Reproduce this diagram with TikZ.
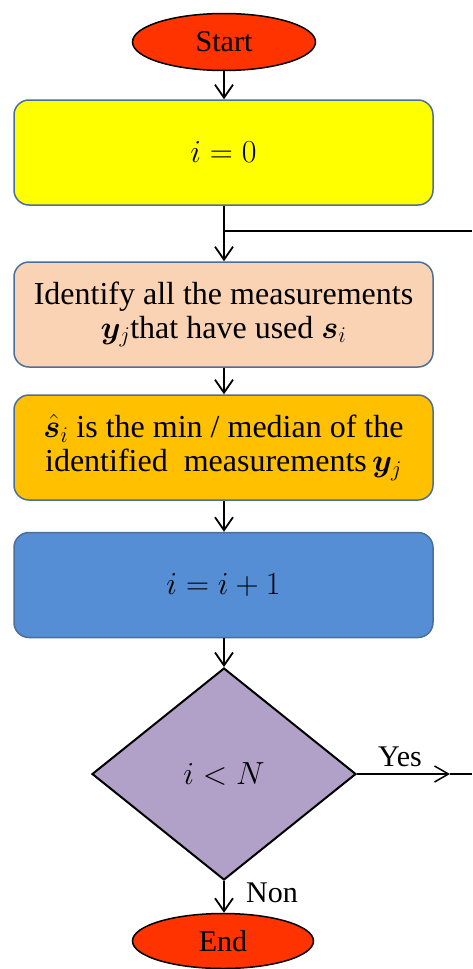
\documentclass[tikz,border=0pt]{standalone}
\usepackage{fix-cm}
\usepackage{amsmath,bm}
\usepackage{fontspec}
\setmainfont{Liberation Serif}
\usetikzlibrary{shapes.geometric,arrows.meta}
\definecolor{boxedge}{HTML}{4A6F98}
\definecolor{startred}{HTML}{FF3300}
\definecolor{yel}{HTML}{FFFF00}
\definecolor{peach}{HTML}{FAD3B4}
\definecolor{gold}{HTML}{FFC000}
\definecolor{blu}{HTML}{558ED5}
\definecolor{lilac}{HTML}{B1A0C7}
\begin{document}
\begin{tikzpicture}[x=1pt,y=-1pt,
  box/.style={draw=boxedge, line width=1.5pt, rounded corners=15pt, minimum width=419pt, minimum height=105pt, inner sep=0pt, align=center, font=\fontsize{32}{36}\selectfont},
  term/.style={ellipse, draw=black, line width=1.5pt, fill=startred, minimum width=183pt, minimum height=57pt, inner sep=0pt, font=\fontsize{30}{34}\selectfont},
  conn/.style={line width=2pt, draw=black},
  arr/.style={conn, -{Straight Barb[length=13pt,width=18pt,line width=1.8pt]}},
  lbl/.style={font=\fontsize{30}{34}\selectfont, inner sep=0pt}
]
\useasboundingbox (0,0) rectangle (472,969);
\node[term] (start) at (224,42) {Start};
\node[box, fill=yel] (init) at (223.5,152.5) {$i=0$};
\node[box, fill=peach] (ident) at (223.5,314.5) {Identify all the measurements\\[-2pt]$\boldsymbol{y}_j$that have used $\boldsymbol{s}_i$};
\node[box, fill=gold] (med) at (223.5,447.5) {$\boldsymbol{\hat{s}}_i$ is the min / median of the\\[-2pt]identified\ \ measurements$\,\boldsymbol{y}_j$};
\node[box, fill=blu] (inc) at (223.5,585) {$i=i+1$};
\node[diamond, draw=black, line width=2pt, fill=lilac, aspect=1.245, minimum width=264pt, minimum height=212pt, inner sep=0pt, font=\fontsize{32}{36}\selectfont] (dec) at (224,774) {$i<N$};
\node[term, minimum width=181pt, minimum height=55pt] (end) at (223,941) {End};
\node[lbl] (yes) at (400,757) {Yes};
\node[lbl] (non) at (272,893) {Non};
\coordinate (junc) at (224,231);
\coordinate (loopin) at (472,231);
\coordinate (yesarr) at (450,774);
\coordinate (loopout) at (472,774);
\draw[arr] (start.south) -- (init.north -| start.south);
\draw[arr] (init.south -| junc) -- (ident.north -| junc);
\draw[conn] (loopin) -- (junc);
\draw[arr] (ident.south -| junc) -- (med.north -| junc);
\draw[arr] (med.south -| junc) -- (inc.north -| junc);
\draw[arr] (inc.south -| junc) -- (dec.north);
\draw[arr] (dec.south) -- (end.north -| dec.south);
\draw[conn, -{Straight Barb[length=14pt,width=16pt,line width=1.5pt]}] (dec.east) -- (yesarr);
\draw[conn] (yesarr) -- (loopout);
\end{tikzpicture}
\end{document}
